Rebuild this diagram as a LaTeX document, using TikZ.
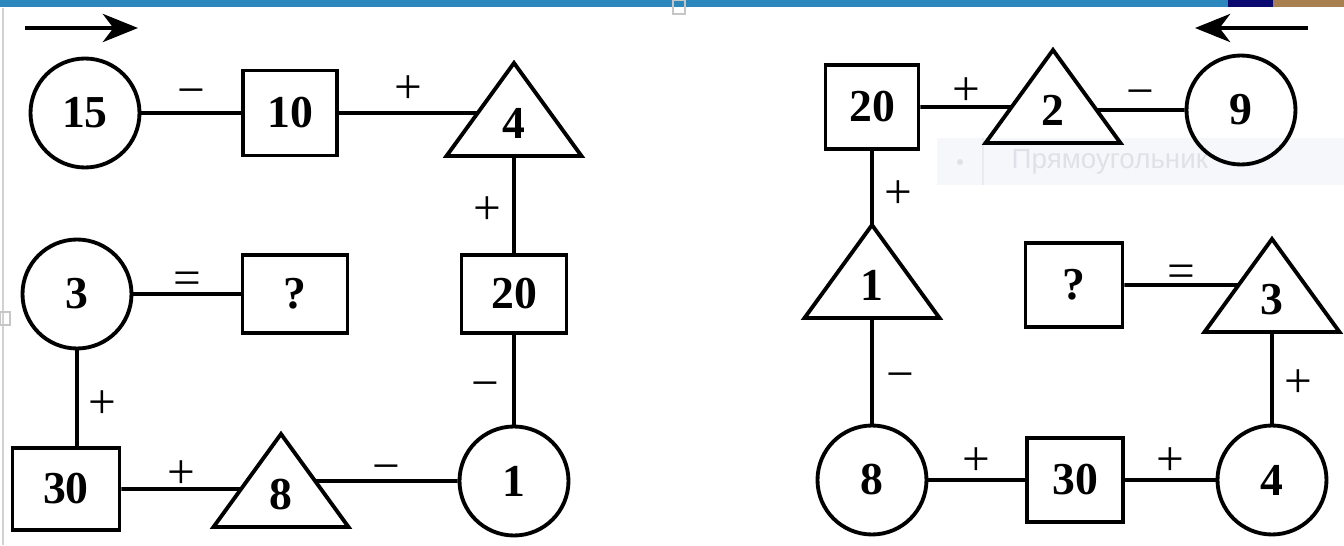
\documentclass[tikz,border=0pt]{standalone}
\usepackage{fontspec}
\setmainfont{Liberation Serif}
\newfontfamily\tipfont{Liberation Sans}
\usetikzlibrary{calc,shapes.geometric,arrows.meta}
\definecolor{barblue}{RGB}{44,136,188}
\definecolor{barnavy}{RGB}{10,10,112}
\definecolor{barphoto}{RGB}{168,128,80}
\definecolor{tipfill}{RGB}{245,247,251}
\definecolor{tipline}{RGB}{232,236,242}
\definecolor{tiptext}{RGB}{222,225,231}

\begin{document}
\begin{tikzpicture}[
		ring/.style={circle, draw, line width=1.1pt, minimum size=1.09cm, inner sep=0pt, font=\fontsize{13}{13}\selectfont\bfseries},
		box/.style={rectangle, draw, line width=1.1pt, minimum width=1.0cm, minimum height=0.82cm, inner sep=0pt, font=\fontsize{13}{13}\selectfont\bfseries},
		tri/.style={isosceles triangle, isosceles triangle stretches, shape border rotate=90, draw, line width=1.1pt, minimum width=1.35cm, minimum height=0.93cm, inner sep=0pt, outer sep=0pt, anchor=lower side, font=\fontsize{13}{13}\selectfont\bfseries},
		link/.style={line width=1.1pt},
		sign/.style={inner sep=0pt, text height=11.5pt, text depth=0pt, font=\fontsize{14}{14}\selectfont},
		dir/.style={line width=1.2pt, -{Stealth[length=10pt,width=8pt,inset=3pt]}}
	]
			%%%%% START %%%%%
			\useasboundingbox (0, 0) rectangle (13.44, 5.45);
			
			% slide frame
			\fill[barblue] (0, 5.38) rectangle (12.28, 5.45);
			\fill[barnavy] (12.28, 5.38) rectangle (12.73, 5.45);
			\fill[barphoto] (12.73, 5.38) rectangle (13.44, 5.45);
			\draw[gray!35, line width=0.5pt] (0.03, 5.37) -- (0.03, 0);
			\draw[gray!45, line width=0.5pt] (0, 2.20) rectangle (0.10, 2.33);
			\draw[gray!45, line width=0.5pt] (6.73, 5.45) rectangle (6.85, 5.31);
			
			% tooltip
			\fill[tipfill] (9.37, 4.07) rectangle (13.44, 3.60);
			\draw[tipline] (9.83, 4.07) -- (9.83, 3.60);
			\fill[tiptext] (9.60, 3.83) circle (0.03);
			\node[anchor=west, inner sep=0pt, text=tiptext, font=\tipfont\fontsize{7.9}{9}\selectfont] (tip) at (10.11, 3.83) {Прямоугольник};
			
			% arrows
			\coordinate (goL) at (0.25, 5.17);
			\coordinate (goR) at (1.38, 5.17);
			\draw[dir] (goL) -- (goR);
			\coordinate (backR) at (13.08, 5.17);
			\coordinate (backL) at (11.95, 5.17);
			\draw[dir] (backR) -- (backL);
			
			% left chain
			\node[ring] (c15) at (0.85, 4.32) {15};
			\node[box, minimum width=0.94cm, minimum height=0.85cm] (b10) at (2.90, 4.32) {10};
			\node[tri] (t4) at (5.14, 3.89) {4};
			\node[box, minimum width=1.05cm, minimum height=0.78cm] (b20) at (5.14, 2.51) {20};
			\node[ring] (c1) at (5.14, 0.64) {1};
			\node[tri] (t8) at (2.81, 0.18) {8};
			\node[box, minimum width=1.07cm] (b30) at (0.66, 0.56) {30};
			\node[ring] (c3) at (0.77, 2.51) {3};
			\node[box, minimum width=1.05cm, minimum height=0.78cm] (bq) at (2.95, 2.51) {?};
			
			\draw[link] (c15) -- (b10) node[sign, midway, yshift=0.27cm] {−};
			\draw[link] (b10) -- ($(t4.left corner)!0.462!(t4.apex)$) node[sign, midway, yshift=0.30cm] {+};
			\draw[link] (t4.lower side) -- (b20) node[sign, midway, xshift=-0.27cm] {+};
			\draw[link] (b20) -- (c1) node[sign, midway, xshift=-0.29cm] {−};
			\draw[link] (c1) -- ($(t8.right corner)!0.495!(t8.apex)$) node[sign, midway, yshift=0.19cm] {−};
			\draw[link] (b30) -- ($(t8.left corner)!0.409!(t8.apex)$) node[sign, midway, yshift=0.21cm] {+};
			\draw[link] (c3) -- (c3 |- b30.north) node[sign, midway, xshift=0.25cm] {+};
			\draw[link] (c3) -- (bq) node[sign, midway, yshift=0.20cm] {=};
			
			% right chain
			\node[box, minimum width=0.93cm, minimum height=0.84cm] (b20r) at (8.72, 4.38) {20};
			\node[tri] (t2) at (10.53, 4.02) {2};
			\node[ring] (c9) at (12.41, 4.35) {9};
			\node[tri] (t1) at (8.72, 2.27) {1};
			\node[ring] (c8) at (8.72, 0.65) {8};
			\node[box, minimum width=0.96cm, minimum height=0.84cm] (b30r) at (10.75, 0.65) {30};
			\node[ring] (c4) at (12.72, 0.65) {4};
			\node[tri] (t3) at (12.72, 2.13) {3};
			\node[box, minimum width=0.97cm, minimum height=0.84cm] (bqr) at (10.74, 2.60) {?};
			
			\draw[link] (b20r) -- ($(t2.left corner)!0.387!(t2.apex)$) node[sign, midway, yshift=0.22cm] {+};
			\draw[link] (c9) -- ($(t2.right corner)!0.355!(t2.apex)$) node[sign, midway, yshift=0.23cm] {−};
			\draw[link] (b20r) -- (t1.apex) node[sign, midway, xshift=0.26cm] {+};
			\draw[link] (t1.lower side) -- (c8) node[sign, midway, xshift=0.28cm] {−};
			\draw[link] (c8) -- (b30r) node[sign, midway, yshift=0.25cm] {+};
			\draw[link] (b30r) -- (c4) node[sign, midway, yshift=0.25cm] {+};
			\draw[link] (c4) -- (t3.lower side) node[sign, midway, xshift=0.26cm] {+};
			\draw[link] (bqr) -- ($(t3.left corner)!0.505!(t3.apex)$) node[sign, midway, yshift=0.18cm] {=};
			
			%%%%% END %%%%%
		\end{tikzpicture}
\end{document}
